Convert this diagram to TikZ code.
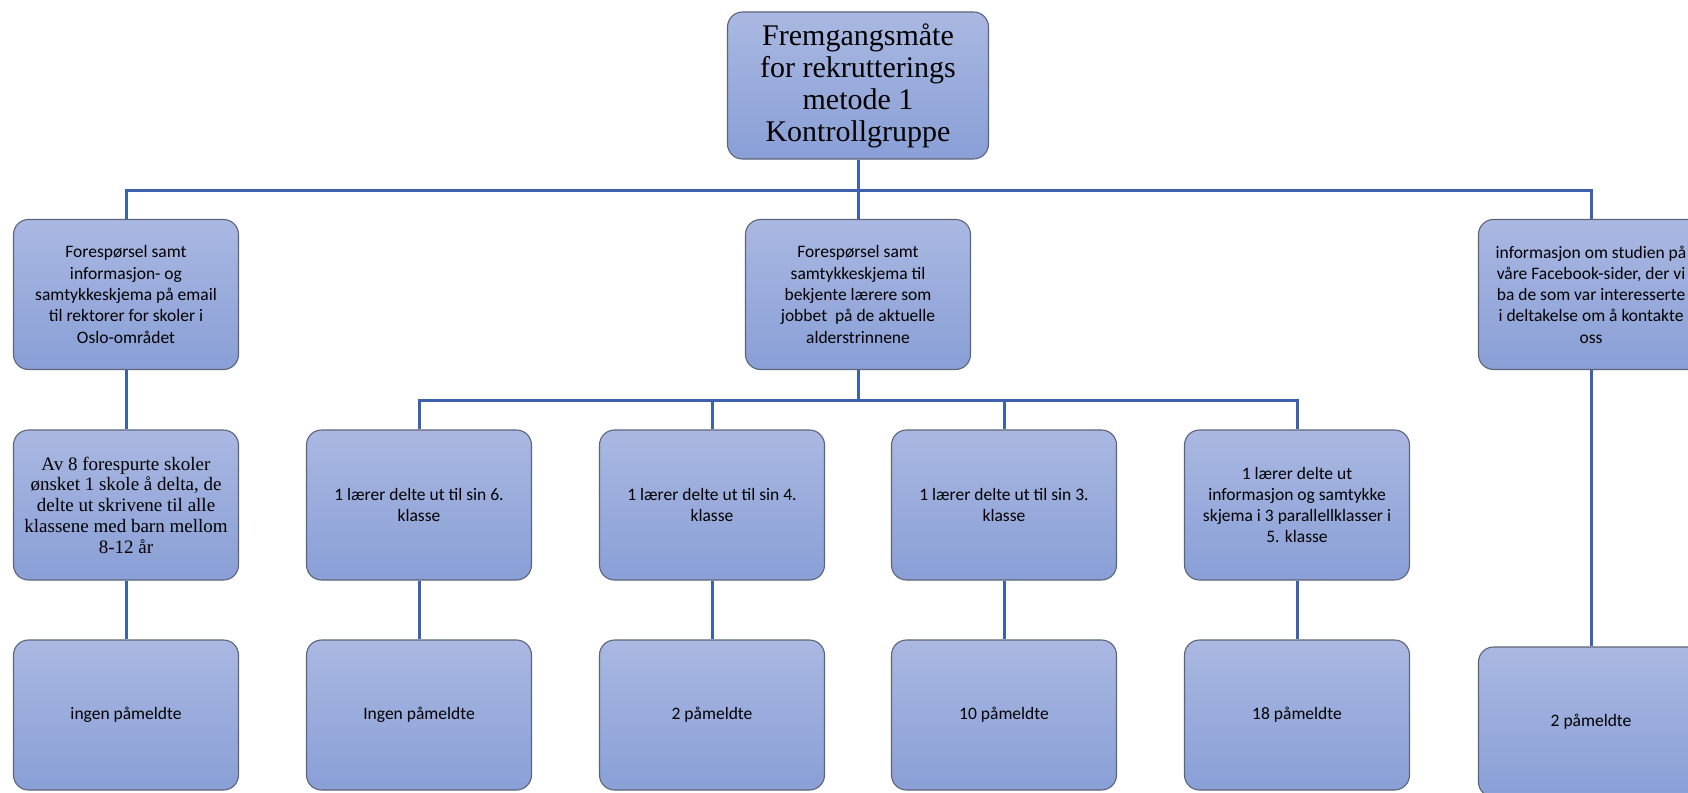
\documentclass[tikz,border=0pt]{standalone}
\usepackage{fontspec}
\setmainfont{Carlito}
\newfontfamily\timesf{Liberation Serif}
\definecolor{boxtop}{RGB}{170,184,226}
\definecolor{boxbot}{RGB}{137,159,214}
\definecolor{boxline}{RGB}{92,100,120}
\definecolor{linkblue}{RGB}{62,97,172}
\begin{document}
\begin{tikzpicture}[x=1pt,y=-1pt,
  box/.style={draw=boxline, line width=1.1pt, rounded corners=15pt,
    top color=boxtop, bottom color=boxbot,
    minimum width=225pt, minimum height=150pt, inner sep=0pt,
    align=center, text=black, font=\fontsize{17.5}{21.3}\selectfont},
  serifbox/.style={box, font=\timesf\fontsize{19}{20.8}\selectfont},
  link/.style={draw=linkblue, line width=3pt}]
\useasboundingbox (0,0) rectangle (1688,792);
\clip (0,0) rectangle (1688,792);
% coordinates of junctions
\coordinate (j0) at (858,190);
\coordinate (j1) at (858,400);
% nodes
\node[box, minimum width=261pt, minimum height=147pt,
  font=\timesf\fontsize{30}{32}\selectfont] (top) at (858,85.5)
  {Fremgangsmåte\\for rekrutterings\\metode 1\\Kontrollgruppe};
\node[box] (a1) at (126,294.5) {Forespørsel samt\\informasjon- og\\samtykkeskjema på email\\til rektorer for skoler i\\Oslo-området};
\node[box] (b1) at (858,294.5) {Forespørsel samt\\samtykkeskjema til\\bekjente lærere som\\jobbet\ \ på de aktuelle\\alderstrinnene};
\node[box] (c1) at (1591,294.5) {informasjon om studien på\\våre Facebook-sider, der vi\\ba de som var interesserte\\i deltakelse om å kontakte\\oss};
\node[serifbox] (a2) at (126,505) {Av 8 forespurte skoler\\ønsket 1 skole å delta, de\\delte ut skrivene til alle\\klassene med barn mellom\\8-12 år};
\node[box] (p2) at (419,505) {1 lærer delte ut til sin 6.\\klasse};
\node[box] (q2) at (712,505) {1 lærer delte ut til sin 4.\\klasse};
\node[box] (r2) at (1004,505) {1 lærer delte ut til sin 3.\\klasse};
\node[box] (s2) at (1297,505) {1 lærer delte ut\\informasjon og samtykke\\skjema i 3 parallellklasser i\\5. klasse};
\node[box] (a3) at (126,715) {ingen påmeldte};
\node[box] (p3) at (419,715) {Ingen påmeldte};
\node[box] (q3) at (712,715) {2 påmeldte};
\node[box] (r3) at (1004,715) {10 påmeldte};
\node[box] (s3) at (1297,715) {18 påmeldte};
\node[box] (c3) at (1591,722) {2 påmeldte};
% connectors
\draw[link] (top.south) -- (j0);
\draw[link] (j0) -| (a1.north);
\draw[link] (j0) -| (c1.north);
\draw[link] (j0) -- (b1.north);
\draw[link] (b1.south) -- (j1);
\draw[link] (j1) -| (p2.north);
\draw[link] (j1) -| (q2.north);
\draw[link] (j1) -| (r2.north);
\draw[link] (j1) -| (s2.north);
\draw[link] (a1.south) -- (a2.north);
\draw[link] (a2.south) -- (a3.north);
\draw[link] (p2.south) -- (p3.north);
\draw[link] (q2.south) -- (q3.north);
\draw[link] (r2.south) -- (r3.north);
\draw[link] (s2.south) -- (s3.north);
\draw[link] (c1.south) -- (c3.north);
\end{tikzpicture}
\end{document}
